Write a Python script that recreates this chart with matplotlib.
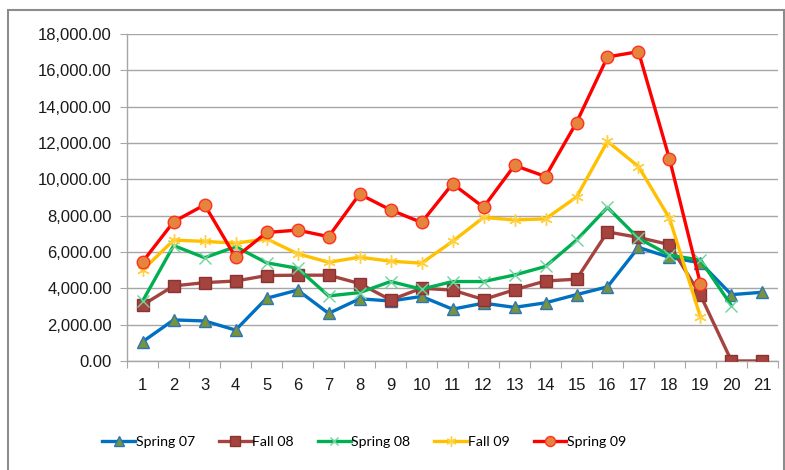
import numpy as np
import matplotlib
matplotlib.use("Agg")
import matplotlib.pyplot as plt
from matplotlib.patches import Rectangle
from matplotlib.ticker import FuncFormatter

weeks = list(range(1, 22))

spring07 = [1060, 2260, 2200, 1700, 3450, 3900, 2620, 3420, 3300, 3550, 2850,
            3180, 2950, 3200, 3650, 4080, 6250, 5700, 5400, 3650, 3780]
fall08 = [3080, 4130, 4310, 4400, 4700, 4720, 4720, 4260, 3360, 4000, 3900,
          3380, 3920, 4400, 4500, 7100, 6800, 6400, 3620, 0, 0]
spring08 = [3300, 6350, 5680, 6290, 5400, 5100, 3580, 3760, 4370, 3950, 4370,
            4370, 4730, 5200, 6650, 8450, 6750, 5820, 5550, 3050]
fall09 = [5000, 6650, 6580, 6480, 6720, 5900, 5430, 5710, 5490, 5380, 6580,
          7900, 7760, 7820, 9020, 12080, 10700, 7850, 2420]
spring09 = [5460, 7660, 8590, 5700, 7070, 7200, 6840, 9180, 8310, 7620, 9750,
            8460, 10760, 10150, 13120, 16730, 17020, 11120, 4240]

series = [
    ("Spring 07", spring07, "#0070C0", "^", "#77933C", "#2E75B6"),
    ("Fall 08", fall08, "#A5433F", "s", "#A5433F", "#8B3330"),
    ("Spring 08", spring08, "#00B050", "x", "#6FD3A0", "#6FD3A0"),
    ("Fall 09", fall09, "#FFC000", (6, 2, 0), "#FFE080", "#FFD040"),
    ("Spring 09", spring09, "#FF0000", "o", "#E5843C", "#FF3020"),
]

fig = plt.figure(figsize=(7.85, 4.7), dpi=100)
ax = fig.add_axes([0.162, 0.232, 0.829, 0.696])

for name, vals, color, marker, face, edge in series:
    ax.plot(weeks[:len(vals)], vals, color=color, lw=2.4, marker=marker,
            markersize=9 if marker != "x" else 8, markerfacecolor=face,
            markeredgecolor=edge, markeredgewidth=1.0, label=name, zorder=3)

ax.set_xlim(0.5, 21.5)
ax.set_ylim(0, 18000)
ax.set_yticks(np.arange(0, 18001, 2000))
ax.yaxis.set_major_formatter(FuncFormatter(lambda v, p: f"{v:,.2f}"))
ax.grid(axis="y", color="#A6A6A6", lw=1.0)
ax.set_axisbelow(True)

# ticks sit between the categories, labels at the centres
ax.set_xticks(np.arange(0.5, 22, 1))
ax.set_xticklabels([])
ax.set_xticks(weeks, minor=True)
ax.set_xticklabels([str(w) for w in weeks], minor=True)
ax.tick_params(axis="x", which="major", length=5, color="#A6A6A6")
ax.tick_params(axis="x", which="minor", length=0, pad=12)
ax.tick_params(axis="y", length=5, color="#A6A6A6", pad=6)
for lbl in ax.get_xticklabels(minor=True) + ax.get_yticklabels():
    lbl.set_fontfamily("Liberation Sans")
    lbl.set_fontsize(12)
    lbl.set_color("#1A1A1A")

for s in ["top", "right"]:
    ax.spines[s].set_visible(False)
for s in ["left", "bottom"]:
    ax.spines[s].set_color("#A6A6A6")
    ax.spines[s].set_linewidth(1.0)

leg = ax.legend(loc="center", bbox_to_anchor=(0.464, 0.060),
                bbox_transform=fig.transFigure, ncol=5, frameon=False,
                handlelength=2.3, columnspacing=1.7, handletextpad=0.05,
                markerscale=0.8, prop={"family": "Lato", "size": 10.2})

fig.add_artist(Rectangle((8 / 785, -0.05), 776 / 785, 1.05 - 10 / 470,
                         transform=fig.transFigure, fill=False,
                         edgecolor="#8C8C8C", lw=1.5))

fig.savefig("out.png", dpi=100)
